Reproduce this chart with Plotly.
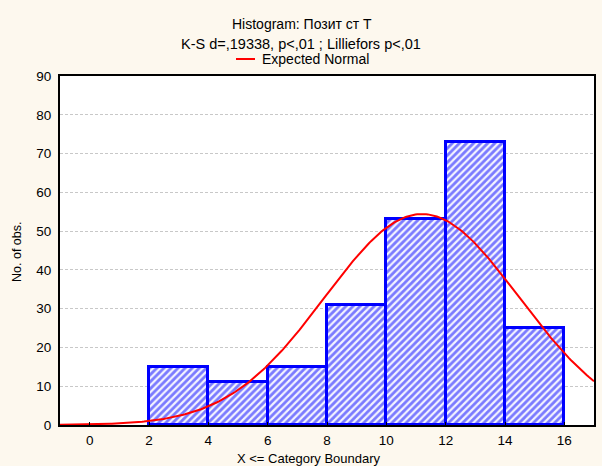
import numpy as np
import plotly.graph_objects as go

# Data
bin_left = [2, 4, 6, 8, 10, 12, 14]
bin_right = [4, 6, 8, 10, 12, 14, 16]
counts = [15, 11, 15, 31, 53, 73, 25]
x_ticks = [0, 2, 4, 6, 8, 10, 12, 14, 16]
y_ticks = [0, 10, 20, 30, 40, 50, 60, 70, 80, 90]

# Expected normal parameters
norm_mean = 11.2
norm_sd = 3.27
bin_width = 2

mids = [(a + b) / 2 for a, b in zip(bin_left, bin_right)]
widths = [b - a for a, b in zip(bin_left, bin_right)]
n_total = sum(counts)

xs = np.linspace(-1, 17, 300)
ys = n_total * bin_width / (norm_sd * np.sqrt(2 * np.pi)) * np.exp(-0.5 * ((xs - norm_mean) / norm_sd) ** 2)

W, H = 602, 466
L, R, T, B = 60, 8, 76, 41
FONT = "Arial, Liberation Sans, sans-serif"

fig = go.Figure()
fig.add_trace(go.Bar(
    x=mids, y=counts, width=widths,
    marker=dict(color="#ffffff",
                line=dict(color="#0000ff", width=3),
                pattern=dict(shape="/", fgcolor="#0000ff", bgcolor="#f4f4ff", size=5, solidity=0.55)),
    showlegend=False, hoverinfo="skip"))
fig.add_trace(go.Scatter(x=xs, y=ys, mode="lines", line=dict(color="#ff0000", width=2),
                         name="Expected Normal", showlegend=False, hoverinfo="skip"))

def py(ypix):
    return (H - B - ypix) / (H - T - B)

def px(xpix):
    return (xpix - L) / (W - L - R)

fig.update_layout(
    width=W, height=H,
    paper_bgcolor="#fdf8ee", plot_bgcolor="#ffffff",
    margin=dict(l=L, r=R, t=T, b=B),
    font=dict(family=FONT, size=13.5, color="#000000"),
    bargap=0,
    showlegend=False,
)
fig.add_annotation(text="Histogram: Позит ст T", xref="paper", yref="paper",
                   x=px(302), y=py(24), showarrow=False, xanchor="center", yanchor="middle",
                   font=dict(size=14))
fig.add_annotation(text="K-S d=,19338, p<,01 ; Lilliefors p<,01", xref="paper", yref="paper",
                   x=px(301), y=py(44), showarrow=False, xanchor="center", yanchor="middle",
                   font=dict(size=14.5))
fig.add_shape(type="line", xref="paper", yref="paper", x0=px(236), x1=px(255), y0=py(59), y1=py(59),
              line=dict(color="#ff0000", width=2))
fig.add_annotation(text="Expected Normal", xref="paper", yref="paper",
                   x=px(260), y=py(59), showarrow=False, xanchor="left", yanchor="middle",
                   font=dict(size=14))
fig.add_annotation(text="X <= Category Boundary", xref="paper", yref="paper",
                   x=px(309), y=py(458), showarrow=False, xanchor="center", yanchor="middle",
                   font=dict(size=13))
fig.add_annotation(text="No. of obs.", xref="paper", yref="paper",
                   x=px(17), y=py(252), showarrow=False, xanchor="center", yanchor="middle",
                   textangle=-90, font=dict(size=12.5))

fig.update_xaxes(range=[-1, 17], tickvals=x_ticks, ticks="inside", ticklen=3, tickcolor="#000000",
                 ticklabelstandoff=2,
                 showgrid=False, showline=True, linecolor="#000000", linewidth=2,
                 mirror=True, zeroline=False, automargin=False)
fig.update_yaxes(range=[0, 90], tickvals=y_ticks, ticks="", showgrid=True,
                 gridcolor="#c8c8c8", griddash="3px,2px", gridwidth=1, ticklabelstandoff=4,
                 showline=True, linecolor="#000000", linewidth=2, mirror=True, zeroline=False,
                 automargin=False)

fig.write_html("out.html", config={"displayModeBar": False},
               post_script="document.body.style.margin='0';document.body.style.overflow='hidden';")
